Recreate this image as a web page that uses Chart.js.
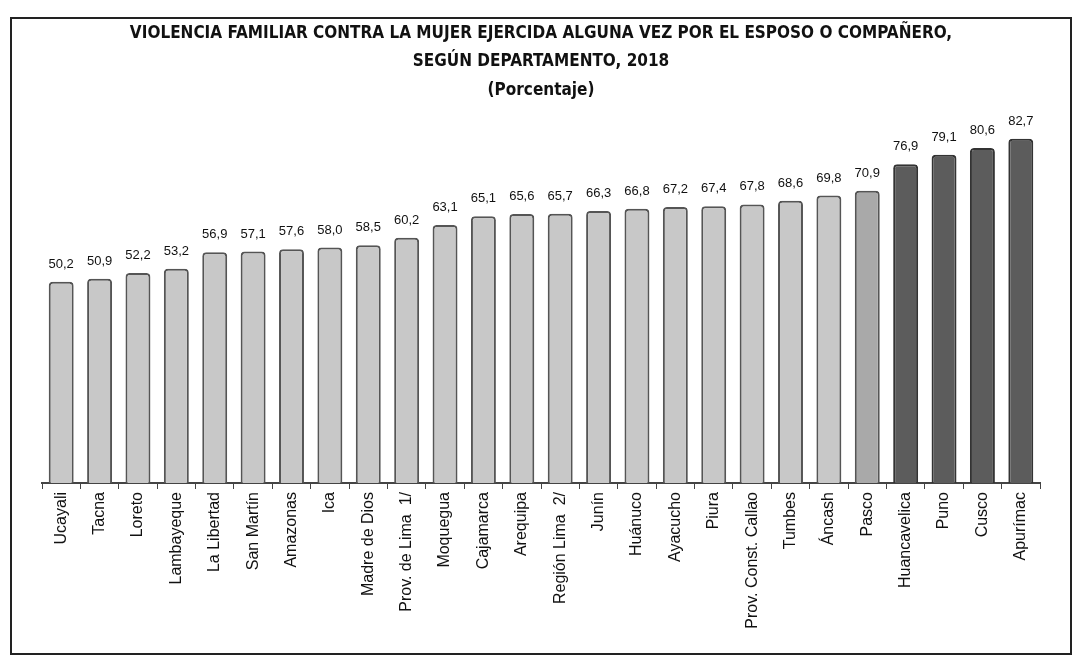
<!DOCTYPE html>
<html>
<head>
<meta charset="utf-8">
<script src="https://cdn.jsdelivr.net/npm/chart.js@4/dist/chart.umd.min.js"></script>
<style>
  html, body { margin: 0; padding: 0; background: #fff; }
  #marco { position: absolute; left: 0; top: 0; width: 1080px; height: 664px; }
  #borde { position: absolute; left: 10px; top: 17px; width: 1058px; height: 634px; border: 2px solid #222; pointer-events: none; }
</style>
</head>
<body>
<div id="marco"><canvas id="grafico" width="1080" height="664"></canvas></div>
<div id="borde"></div>
<script>
const departamentos = [
  "Ucayali", "Tacna", "Loreto", "Lambayeque", "La Libertad", "San Martín",
  "Amazonas", "Ica", "Madre de Dios", "Prov. de Lima  1/", "Moquegua",
  "Cajamarca", "Arequipa", "Región Lima  2/", "Junín", "Huánuco", "Ayacucho",
  "Piura", "Prov. Const. Callao", "Tumbes", "Áncash", "Pasco", "Huancavelica",
  "Puno", "Cusco", "Apurímac"
];
const porcentajes = [
  50.2, 50.9, 52.2, 53.2, 56.9, 57.1, 57.6, 58.0, 58.5, 60.2, 63.1,
  65.1, 65.6, 65.7, 66.3, 66.8, 67.2, 67.4, 67.8, 68.6, 69.8, 70.9,
  76.9, 79.1, 80.6, 82.7
];
const tituloLineas = [
  "VIOLENCIA FAMILIAR CONTRA LA MUJER EJERCIDA ALGUNA VEZ POR EL ESPOSO O COMPAÑERO,",
  "SEGÚN DEPARTAMENTO, 2018",
  "(Porcentaje)"
];

// tono de cada barra: claras, Pasco algo mas oscura, las cuatro ultimas oscuras
const relleno = porcentajes.map((v, i) => {
  if (i >= 22) return "#5c5c5c";
  if (i === 21) return "#a9a9a9";
  return "#c8c8c8";
});
const contorno = porcentajes.map((v, i) => (i >= 22 ? "#333333" : "#555555"));

const etiquetasValor = {
  id: "etiquetasValor",
  afterDatasetsDraw(chart) {
    const ctx = chart.ctx;
    const meta = chart.getDatasetMeta(0);
    ctx.save();
    ctx.font = "13px 'Liberation Sans', Arial, sans-serif";
    ctx.fillStyle = "#111";
    ctx.textAlign = "center";
    ctx.textBaseline = "bottom";
    meta.data.forEach((barra, i) => {
      const texto = porcentajes[i].toFixed(1).replace(".", ",");
      ctx.fillText(texto, barra.x, barra.y - 11);
    });
    ctx.restore();
  }
};

new Chart(document.getElementById("grafico").getContext("2d"), {
  type: "bar",
  data: {
    labels: departamentos,
    datasets: [{
      label: "Porcentaje",
      data: porcentajes,
      backgroundColor: relleno,
      borderColor: contorno,
      borderWidth: 2,
      borderSkipped: "bottom",
      borderRadius: { topLeft: 4, topRight: 4 },
      barPercentage: 0.65,
      categoryPercentage: 1
    }]
  },
  options: {
    responsive: false,
    animation: false,
    layout: { padding: { left: 42, right: 40, top: 20, bottom: 0 } },
    plugins: {
      legend: { display: false },
      tooltip: { enabled: false },
      title: {
        display: true,
        text: tituloLineas,
        color: "#111",
        font: { family: "'DejaVu Sans Condensed', 'Liberation Sans Narrow', sans-serif", size: 17, weight: "bold", lineHeight: 1.65 },
        padding: { top: 0, bottom: 10 }
      }
    },
    scales: {
      x: {
        offset: true,
        grid: { display: true, drawOnChartArea: false, drawTicks: true, tickLength: 6, color: "#444", offset: true },
        border: { display: true, color: "#444", width: 2 },
        ticks: {
          color: "#111",
          font: { family: "'Liberation Sans', Arial, sans-serif", size: 16 },
          minRotation: 90,
          maxRotation: 90,
          autoSkip: false,
          padding: 3
        },
        afterFit: (escala) => { escala.height = 181; }
      },
      y: {
        display: false,
        min: 4.5,
        max: 88.3
      }
    }
  },
  plugins: [etiquetasValor]
});
</script>
</body>
</html>
